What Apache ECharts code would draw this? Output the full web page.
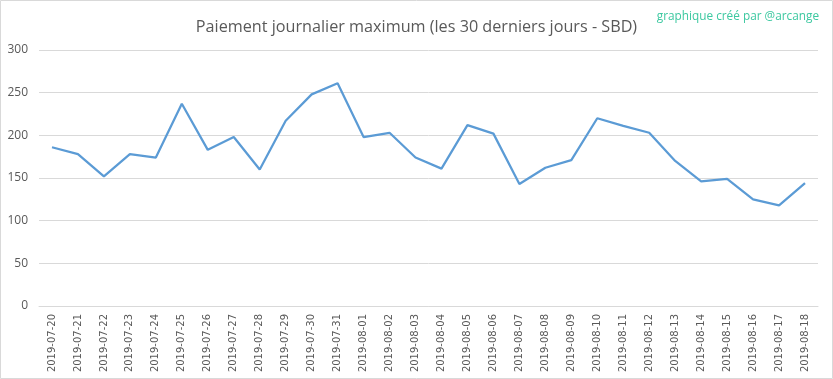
<!DOCTYPE html>
<html><head><meta charset="utf-8">
<script src="https://cdn.jsdelivr.net/npm/echarts@6/dist/echarts.min.js"></script>
<style>html,body{margin:0;padding:0;background:#fff}#c{width:833px;height:379px;box-sizing:border-box}</style>
</head><body><div id="c"></div>
<script>
const categories = ["2019-07-20","2019-07-21","2019-07-22","2019-07-23","2019-07-24","2019-07-25","2019-07-26","2019-07-27","2019-07-28","2019-07-29","2019-07-30","2019-07-31","2019-08-01","2019-08-02","2019-08-03","2019-08-04","2019-08-05","2019-08-06","2019-08-07","2019-08-08","2019-08-09","2019-08-10","2019-08-11","2019-08-12","2019-08-13","2019-08-14","2019-08-15","2019-08-16","2019-08-17","2019-08-18"];
const values = [186,178,152,178,174,237,183,198,160,217,248,261,198,203,174,161,212,202,143,162,171,220,211,203,170,146,149,125,118,144];
const yTicks = [0,50,100,150,200,250,300];

const chart = echarts.init(document.getElementById('c'));
chart.setOption({
  animation:false,
  title:[{text:'Paiement journalier maximum (les 30 derniers jours - SBD)',left:'center',top:14,
    textStyle:{fontFamily:'Open Sans',fontSize:16.2,fontWeight:'normal',color:'#595959'}},
    {text:'graphique créé par @arcange',right:9,top:6,
    textStyle:{fontFamily:'Open Sans',fontSize:11.8,fontWeight:'normal',color:'#3cc8a0'}}],
  graphic:[{type:'rect',shape:{x:0.5,y:0.5,width:832,height:378},style:{fill:'none',stroke:'#d9d9d9',lineWidth:1},silent:true}],
  grid:{left:39,right:15,top:50,bottom:73},
  xAxis:{type:'category',data:categories,boundaryGap:true,
    axisLine:{lineStyle:{color:'#d9d9d9'}},axisTick:{show:false},
    axisLabel:{rotate:90,interval:0,color:'#595959',fontFamily:'DejaVu Sans',fontSize:10,margin:8}},
  yAxis:{type:'value',min:0,max:300,interval:50,
    axisLine:{show:false},axisTick:{show:false},
    splitLine:{lineStyle:{color:'#d9d9d9'}},
    axisLabel:{color:'#595959',fontFamily:'Open Sans',fontSize:12,margin:11,
      formatter:v=>yTicks.includes(v)?String(v):''}},
  series:[{type:'line',data:values,symbol:'none',lineStyle:{color:'#5b9bd5',width:2.25}}]
});
</script></body></html>
